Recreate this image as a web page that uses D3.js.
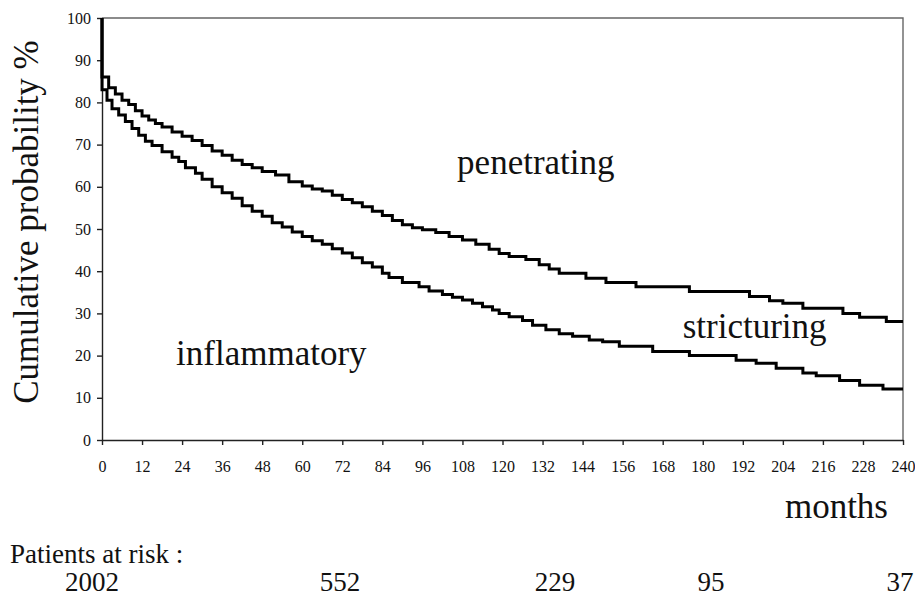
<!DOCTYPE html>
<meta charset="utf-8">
<style>
 body { margin: 0; background: #fff; }
 svg { display: block; font-family: 'Liberation Serif', 'Times New Roman', serif; }
 .axis path, .axis line { fill: none; stroke: #222; stroke-width: 1.4; }
 .axis text { fill: #111; font-size: 16px; font-family: 'Liberation Serif', serif; }
 .curve { fill: none; stroke: #000; stroke-width: 3; }
 .lbl { font-size: 35px; fill: #111; }
</style>
<body>
<script src="https://cdn.jsdelivr.net/npm/d3@7"></script>
<script>

 // step points [month, cumulative %]
 var upperSteps = [
     [0,100],[0,86],[2,83.5],[4,82],[6,80.5],[8,79.5],[10,78],[12,76.8],[14,75.8],[16,75],
     [18,74.2],[21,73],[24,72],[27,71],[30,69.8],[33,68.5],[36,67.5],[39,66.3],[42,65.3],
     [45,64.5],[48,63.6],[52,62.8],[56,61.2],[60,60.2],[63,59.5],[66,59],[69,58],[72,57],
     [75,56.2],[78,55.3],[81,54.2],[84,53.2],[87,52],[90,51],[93,50.3],[96,49.8],[100,49.2],
     [104,48.2],[108,47.4],[112,46.4],[116,45.2],[119,44.2],[122,43.5],[127,42.8],[131,41.5],
     [134,40.5],[137,39.5],[145,38.3],[151,37.3],[160,36.3],[176,35.2],[194,34],[200,33],
     [204,32.4],[210,31.2],[222,30],[227,29.1],[235,28.1],[240,28.1]
 ];

 var lowerSteps = [
     [0,100],[0,83],[1.5,80.5],[3,78.5],[5,77],[7,75.5],[9,73.8],[11,72.2],[13,70.8],[15,69.8],
     [18,68.3],[21,67],[23,66],[25,64.5],[28,63.2],[30,61.8],[33,60],[36,58.6],[39,57.3],
     [42,55.5],[45,54.2],[48,53],[51,51.5],[54,50.5],[57,49.3],[60,48.2],[63,47.2],[66,46.4],
     [69,45.3],[72,44.3],[75,43.2],[78,42],[81,41],[84,39.5],[86,38.5],[90,37.3],[95,36.3],
     [98,35.3],[102,34.5],[105,33.8],[108,33.2],[111,32.4],[114,31.6],[117,30.8],[119,30],
     [122,29.2],[126,28.3],[129,27.2],[133,26.1],[137,25.2],[141,24.6],[146,23.7],[150,23.3],
     [155,22.2],[165,21],[176,20],[190,18.9],[196,18.2],[202,17],[210,15.9],[214,15.2],
     [221,14.1],[227,13],[234,12.1],[240,12.1]
 ];

 var xTicks = d3.range(0, 241, 12);
 var yTicks = d3.range(0, 101, 10);

 var regionLabels = ["penetrating", "stricturing", "inflammatory"];
 var riskMonths = [0, 60, 120, 180, 240];
 var riskCounts = ["2002", "552", "229", "95", "37"];

 var margin = {top: 18, right: 12, bottom: 156, left: 102},
     width = 915 - margin.left - margin.right,
     height = 596 - margin.top - margin.bottom;

 var svg = d3.select("body").append("svg")
             .attr("width", 915)
             .attr("height", 596);

 var g = svg.append("g")
            .attr("transform", "translate(" + margin.left + "," + margin.top + ")");

 var xScale = d3.scaleLinear().domain([0, 240]).range([0, width]);
 var yScale = d3.scaleLinear().domain([0, 100]).range([height, 0]);

 // frame top and right
 g.append("path")
  .attr("d", "M0,0H" + width + "V" + height)
  .attr("fill", "none")
  .attr("stroke", "#666")
  .attr("stroke-width", 1.4);

 g.append("g")
  .attr("class", "axis")
  .attr("transform", "translate(0," + height + ")")
  .call(d3.axisBottom(xScale).tickValues(xTicks).tickSize(5).tickPadding(16).tickSizeOuter(0));

 g.append("g")
  .attr("class", "axis")
  .call(d3.axisLeft(yScale).tickValues(yTicks).tickSize(5).tickPadding(6).tickSizeOuter(0));

 g.selectAll(".axis text").attr("font-size", 16);

 var line = d3.line()
              .x(function(d) { return xScale(d[0]); })
              .y(function(d) { return yScale(d[1]); })
              .curve(d3.curveStepAfter);

 g.append("path").datum(upperSteps).attr("class", "curve").attr("d", line);
 g.append("path").datum(lowerSteps).attr("class", "curve").attr("d", line);

 // region labels, placed in data units (month, %)
 var labelPos = [[106.4, 63], [174, 24.2], [22.2, 17.8]];
 g.selectAll(".region")
  .data(regionLabels)
  .enter().append("text")
  .attr("class", "lbl")
  .attr("x", function(d, i) { return xScale(labelPos[i][0]); })
  .attr("y", function(d, i) { return yScale(labelPos[i][1]); })
  .attr("text-anchor", "start")
  .text(function(d) { return d; });

 // Y axis label
 svg.append("text")
    .attr("class", "lbl")
    .attr("transform", "translate(38," + (margin.top + 204) + ") rotate(-90)")
    .attr("text-anchor", "middle")
    .text("Cumulative probability %");

 svg.append("text")
    .attr("class", "lbl")
    .attr("x", 888)
    .attr("y", 518)
    .attr("text-anchor", "end")
    .text("months");

 svg.append("text")
    .attr("class", "lbl")
    .attr("x", 10)
    .attr("y", 563)
    .style("font-size", "27px")
    .text("Patients at risk :");

 // risk numbers sit a bit off the month grid in the original
 var riskX = d3.scaleLinear().domain(riskMonths).range([92, 340, 555, 711, 900]);
 svg.selectAll(".risk")
    .data(riskCounts)
    .enter().append("text")
    .attr("class", "lbl")
    .style("font-size", "27px")
    .attr("x", function(d, i) { return riskX(riskMonths[i]); })
    .attr("y", 591)
    .attr("text-anchor", "middle")
    .text(function(d) { return d; });

</script>
